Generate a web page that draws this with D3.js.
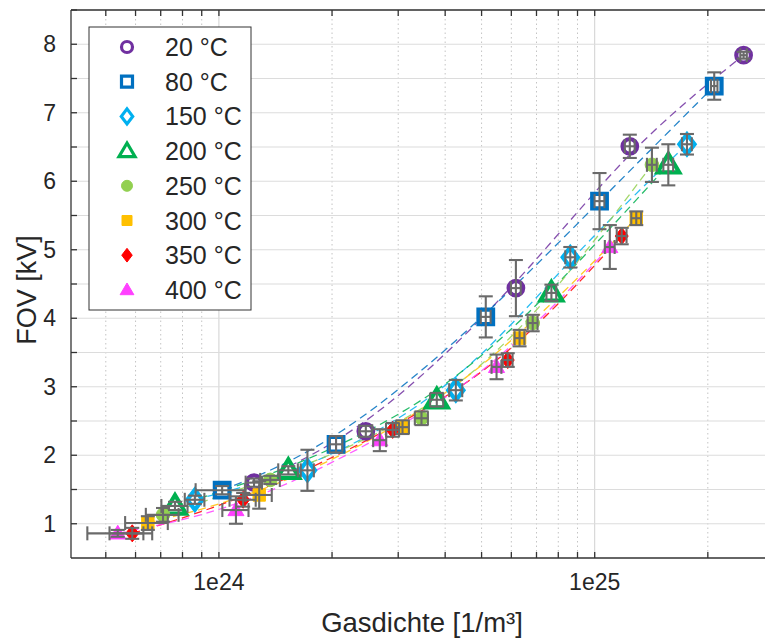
<!DOCTYPE html>
<html><head><meta charset="utf-8">
<script src="https://cdn.jsdelivr.net/npm/d3@7"></script>
<style>
html,body{margin:0;padding:0;background:#fff;}
svg{display:block;font-family:"Liberation Sans",Arial,sans-serif;}
</style></head>
<body><svg id="c" width="765" height="639"></svg>
<script>
// ---- data ----
const labels = ["20 °C","80 °C","150 °C","200 °C","250 °C","300 °C","350 °C","400 °C"];
const colors = ["#7030A0","#0070C0","#00B0F0","#00B050","#92D050","#FFC000","#FF0000","#FF40FF"];
const shapes = ["circleO","squareO","diamondO","triangleO","circle","square","diamond","triangle"];

const dens20  = [1.24e24, 2.46e24, 6.17e24, 1.24e25, 2.49e25];
const fov20   = [1.60, 2.35, 4.44, 6.51, 7.84];
const eFov20  = [0.06, 0.08, 0.41, 0.17, 0.05];
const eDens20 = [0.05, 0.04, 0.03, 0.03, 0.02];

const dens80  = [1.02e24, 2.05e24, 5.13e24, 1.03e25, 2.08e25];
const fov80   = [1.49, 2.16, 4.02, 5.71, 7.39];
const eFov80  = [0.06, 0.12, 0.30, 0.41, 0.20];
const eDens80 = [0.15, 0.04, 0.03, 0.03, 0.02];

const dens150  = [8.63e23, 1.72e24, 4.27e24, 8.61e24, 1.76e25];
const fov150   = [1.35, 1.78, 2.95, 4.89, 6.54];
const eFov150  = [0.06, 0.30, 0.15, 0.15, 0.15];
const eDens150 = [0.06, 0.04, 0.04, 0.03, 0.03];

const dens200  = [7.64e23, 1.53e24, 3.80e24, 7.67e24, 1.57e25];
const fov200   = [1.26, 1.78, 2.81, 4.37, 6.24];
const eFov200  = [0.06, 0.06, 0.10, 0.12, 0.30];
const eDens200 = [0.08, 0.06, 0.04, 0.03, 0.03];

const dens250  = [7.10e23, 1.37e24, 3.46e24, 6.84e24, 1.42e25];
const fov250   = [1.13, 1.64, 2.54, 3.93, 6.24];
const eFov250  = [0.10, 0.06, 0.10, 0.12, 0.25];
const eDens250 = [0.10, 0.06, 0.04, 0.03, 0.03];

const dens300  = [6.47e23, 1.28e24, 3.08e24, 6.31e24, 1.29e25];
const fov300   = [1.01, 1.42, 2.41, 3.71, 5.46];
const eFov300  = [0.10, 0.20, 0.10, 0.12, 0.10];
const eDens300 = [0.13, 0.08, 0.04, 0.03, 0.03];

const dens350  = [5.88e23, 1.16e24, 2.90e24, 5.87e24, 1.18e25];
const fov350   = [0.86, 1.35, 2.37, 3.39, 5.20];
const eFov350  = [0.08, 0.10, 0.10, 0.10, 0.12];
const eDens350 = [0.13, 0.08, 0.04, 0.03, 0.03];

const dens400  = [5.38e23, 1.11e24, 2.68e24, 5.48e24, 1.097e25];
const fov400   = [0.86, 1.20, 2.22, 3.29, 5.04];
const eFov400  = [0.05, 0.20, 0.16, 0.18, 0.32];
const eDens400 = [0.17, 0.08, 0.04, 0.03, 0.03];

const xTickLabels = ["1e24","1e25"];
const yTickValues = [1,2,3,4,5,6,7,8];

const allDens = [dens20,dens80,dens150,dens200,dens250,dens300,dens350,dens400];
const allFov  = [fov20,fov80,fov150,fov200,fov250,fov300,fov350,fov400];
const allEF   = [eFov20,eFov80,eFov150,eFov200,eFov250,eFov300,eFov350,eFov400];
const allED   = [eDens20,eDens80,eDens150,eDens200,eDens250,eDens300,eDens350,eDens400];

const series = labels.map((l,i)=>({
  label:l, color:colors[i], shape:shapes[i],
  pts: allDens[i].map((d,j)=>({x:d, y:allFov[i][j], ey:allEF[i][j], ex:allED[i][j]*d}))
}));

// ---- layout ----
const svg = d3.select("#c");
const L = 71, T = 10, B = 558, R = 774;
const x = d3.scaleLog().domain([4.04e23, 3e25]).range([L, R]);
const y = d3.scaleLinear().domain([0.5, 8.5]).range([B, T]);

// grid
const g = svg.append("g");
const minorX = [];
for (let e = 23; e <= 25; e++) for (let m = 1; m <= 9; m++) {
  const v = m * Math.pow(10, e);
  if (v >= 4.04e23 && v <= 3e25) minorX.push(v);
}
const isMajor = d => Math.abs(Math.log10(d) - Math.round(Math.log10(d))) < 1e-6;
g.selectAll(".vg").data(minorX).join("line")
  .attr("x1", d=>x(d)).attr("x2", d=>x(d)).attr("y1", T).attr("y2", B)
  .attr("stroke", d => isMajor(d) ? "#d0d0d0" : "#c4c4c4")
  .attr("stroke-width", 1)
  .attr("stroke-dasharray", d => isMajor(d) ? null : "1.5,3");
const yGrid = d3.range(1, 8.51, 0.5);
g.selectAll(".hg").data(yGrid).join("line")
  .attr("x1", L).attr("x2", R).attr("y1", d=>y(d)).attr("y2", d=>y(d))
  .attr("stroke", "#dcdcdc").attr("stroke-width", 1.2);

// fit lines (dashed)
const line = d3.line().x(d=>x(d.x)).y(d=>y(d.y)).curve(d3.curveBasis);
svg.append("g").selectAll("path").data(series).join("path")
  .attr("d", d=>line(d.pts)).attr("fill","none")
  .attr("stroke", d=>d.color).attr("stroke-width",1.3)
  .attr("stroke-dasharray","8,5").attr("opacity",0.85);

// marker path generator
function markerPath(shape, s) {
  switch (shape.replace("O","")) {
    case "circle": { const p = d3.path(); p.arc(0,0,s,0,2*Math.PI); p.closePath(); return p.toString(); }
    case "square": return `M${-s},${-s}H${s}V${s}H${-s}Z`;
    case "diamond": return `M0,${-s*1.25}L${s*0.95},0L0,${s*1.25}L${-s*0.95},0Z`;
    case "triangle": return `M0,${-s*1.15}L${s*1.15},${s*0.8}L${-s*1.15},${s*0.8}Z`;
  }
}
const plotSize = {circleO:7.3, squareO:7.3, diamondO:8, triangleO:9.5, circle:6.8, square:6.2, diamond:6.8, triangle:7};

const mk = svg.append("g");
series.forEach(s => {
  const hollow = s.shape.endsWith("O");
  mk.append("g").selectAll("path").data(s.pts).join("path")
    .attr("transform", d=>`translate(${x(d.x)},${y(d.y)})`)
    .attr("d", markerPath(s.shape, plotSize[s.shape]))
    .attr("fill", hollow ? "#fff" : s.color)
    .attr("stroke", s.color).attr("stroke-width", hollow ? 4.2 : 1);
});

// error bars
const eb = svg.append("g").attr("stroke","#6a6a6a").attr("stroke-width",2.1).attr("fill","none");
const cap = 7;
series.forEach(s => {
  s.pts.forEach(d => {
    const cx = x(d.x), cy = y(d.y);
    const y1 = y(d.y + d.ey), y2 = y(d.y - d.ey);
    eb.append("line").attr("x1",cx).attr("x2",cx).attr("y1",y1).attr("y2",y2);
    eb.append("line").attr("x1",cx-cap).attr("x2",cx+cap).attr("y1",y1).attr("y2",y1);
    eb.append("line").attr("x1",cx-cap).attr("x2",cx+cap).attr("y1",y2).attr("y2",y2);
    const x1 = x(d.x - d.ex), x2 = x(d.x + d.ex);
    eb.append("line").attr("x1",x1).attr("x2",x2).attr("y1",cy).attr("y2",cy);
    eb.append("line").attr("x1",x1).attr("x2",x1).attr("y1",cy-cap).attr("y2",cy+cap);
    eb.append("line").attr("x1",x2).attr("x2",x2).attr("y1",cy-cap).attr("y2",cy+cap);
  });
});

// axes / frame
const ax = svg.append("g").attr("stroke","#333").attr("stroke-width",1.3);
ax.append("line").attr("x1",L).attr("x2",L).attr("y1",T).attr("y2",B);
ax.append("line").attr("x1",L).attr("x2",R).attr("y1",B).attr("y2",B);
ax.append("line").attr("x1",L).attr("x2",R).attr("y1",T).attr("y2",T);
ax.selectAll(".yt").data(yGrid).join("line")
  .attr("x1",L).attr("x2",L+6).attr("y1",d=>y(d)).attr("y2",d=>y(d));
ax.selectAll(".xtb").data(minorX).join("line")
  .attr("x1",d=>x(d)).attr("x2",d=>x(d)).attr("y1",B).attr("y2",B-6);
ax.selectAll(".xtt").data(minorX).join("line")
  .attr("x1",d=>x(d)).attr("x2",d=>x(d)).attr("y1",T).attr("y2",T+6);

// tick labels
const txt = svg.append("g").attr("fill","#262626");
txt.selectAll(".yl").data(yTickValues).join("text")
  .attr("x", 56).attr("y", d=>y(d)).attr("dy","0.35em")
  .attr("text-anchor","end").attr("font-size",23).text(d=>d);
const xTickVals = [1e24, 1e25];
txt.selectAll(".xl").data(xTickVals).join("text")
  .attr("x", d=>x(d)).attr("y", 590)
  .attr("text-anchor","middle").attr("font-size",23).text((d,i)=>xTickLabels[i]);
txt.append("text").attr("x",422).attr("y",632).attr("text-anchor","middle")
  .attr("font-size",27.5).text("Gasdichte [1/m³]");
txt.append("text").attr("transform","translate(36,290) rotate(-90)")
  .attr("text-anchor","middle").attr("font-size",27).text("FOV [kV]");

// legend
const lg = svg.append("g");
lg.append("rect").attr("x",89).attr("y",27).attr("width",162).attr("height",283)
  .attr("fill","#fff").attr("stroke","#333").attr("stroke-width",1);
const legSize = {circleO:5.5, squareO:5.5, diamondO:6, triangleO:7, circle:5.5, square:5, diamond:5.5, triangle:6};
series.forEach((s,i) => {
  const cy = 47 + i*34.7;
  const hollow = s.shape.endsWith("O");
  lg.append("path").attr("transform",`translate(127,${cy})`)
    .attr("d", markerPath(s.shape, legSize[s.shape]))
    .attr("fill", hollow ? "#fff" : s.color)
    .attr("stroke", s.color).attr("stroke-width", hollow ? 3.2 : 1);
  lg.append("text").attr("x",165).attr("y",cy).attr("dy","0.36em")
    .attr("font-size",25).attr("fill","#262626").text(s.label);
});
</script></body></html>
